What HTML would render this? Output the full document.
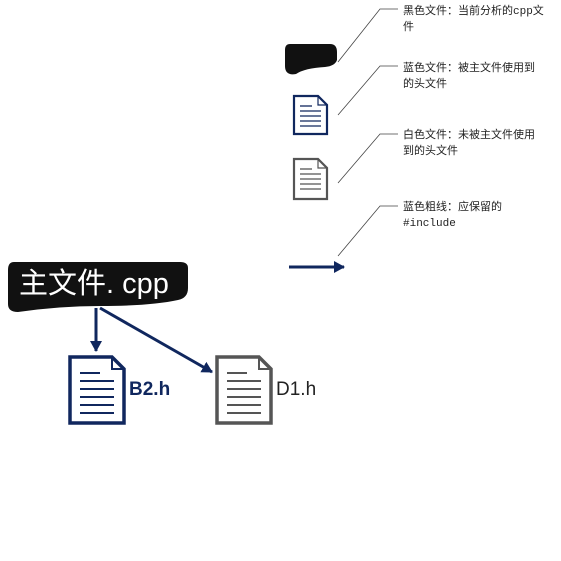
<!DOCTYPE html>
<html><head><meta charset="utf-8"><style>
body{margin:0;background:#fff;width:561px;height:561px;overflow:hidden;font-family:"Liberation Sans","Noto Sans CJK SC",sans-serif}
.t{position:absolute;font-size:11px;line-height:16px;color:#222;font-family:"Liberation Mono","Noto Sans CJK SC",monospace;width:147px;word-break:break-all}
</style></head><body>
<svg width="561" height="561" style="position:absolute;left:0;top:0">
<defs>
<marker id="a" markerWidth="12" markerHeight="12" refX="10" refY="6" orient="auto" markerUnits="userSpaceOnUse"><path d="M0,0 L11,6 L0,12 Z" fill="#10275e"/></marker>
</defs>
<path d="M14,262 Q8,262 8,270 L8,304 Q8,312 18,312 Q60,306 100,306 Q150,306 178,300 Q188,298 188,288 L188,268 Q188,262 180,262 Z" fill="#111"/>
<text x="19" y="293" fill="#fff" font-size="29" font-family="Liberation Sans,Noto Sans CJK SC,sans-serif">主文件. cpp</text>
<line x1="96" y1="308" x2="96" y2="351" stroke="#10275e" stroke-width="3" marker-end="url(#a)"/>
<line x1="100" y1="308" x2="212" y2="372" stroke="#10275e" stroke-width="3" marker-end="url(#a)"/>
<path d="M70,357 L112,357 L124,369 L124,423 L70,423 Z" fill="#fff" stroke="#10275e" stroke-width="3.5"/>
<path d="M112,357 L112,369 L124,369" fill="none" stroke="#10275e" stroke-width="2"/>
<g stroke="#10275e" stroke-width="2"><line x1="80" y1="373" x2="100" y2="373"/><line x1="80" y1="381" x2="114" y2="381"/><line x1="80" y1="389" x2="114" y2="389"/><line x1="80" y1="397" x2="114" y2="397"/><line x1="80" y1="405" x2="114" y2="405"/><line x1="80" y1="413" x2="114" y2="413"/></g>
<text x="129" y="395" fill="#10275e" font-size="19" font-weight="bold">B2.h</text>
<path d="M217,357 L259,357 L271,369 L271,423 L217,423 Z" fill="#fff" stroke="#555" stroke-width="3.5"/>
<path d="M259,357 L259,369 L271,369" fill="none" stroke="#555" stroke-width="2"/>
<g stroke="#555" stroke-width="2"><line x1="227" y1="373" x2="247" y2="373"/><line x1="227" y1="381" x2="261" y2="381"/><line x1="227" y1="389" x2="261" y2="389"/><line x1="227" y1="397" x2="261" y2="397"/><line x1="227" y1="405" x2="261" y2="405"/><line x1="227" y1="413" x2="261" y2="413"/></g>
<text x="276" y="395" fill="#222" font-size="19">D1.h</text>
<path d="M290,44 L330,44 Q337,44 337,52 L337,60 Q335,66 325,67 Q305,68 296,74 Q285,76 285,66 L285,50 Q285,44 290,44 Z" fill="#111"/>
<path d="M294,96 L318,96 L327,105 L327,134 L294,134 Z" fill="#fff" stroke="#10275e" stroke-width="2.2"/>
<path d="M318,96 L318,105 L327,105" fill="none" stroke="#10275e" stroke-width="1.2"/>
<g stroke="#10275e" stroke-width="1.3"><line x1="300" y1="106" x2="312" y2="106"/><line x1="300" y1="111" x2="321" y2="111"/><line x1="300" y1="116" x2="321" y2="116"/><line x1="300" y1="121" x2="321" y2="121"/><line x1="300" y1="126" x2="321" y2="126"/></g>
<path d="M294,159 L318,159 L327,168 L327,199 L294,199 Z" fill="#fff" stroke="#555" stroke-width="2.2"/>
<path d="M318,159 L318,168 L327,168" fill="none" stroke="#555" stroke-width="1.2"/>
<g stroke="#555" stroke-width="1.3"><line x1="300" y1="169" x2="312" y2="169"/><line x1="300" y1="174" x2="321" y2="174"/><line x1="300" y1="179" x2="321" y2="179"/><line x1="300" y1="184" x2="321" y2="184"/><line x1="300" y1="189" x2="321" y2="189"/></g>
<line x1="289" y1="267" x2="344" y2="267" stroke="#10275e" stroke-width="3" marker-end="url(#a)"/>
<g stroke="#444" stroke-width="0.8" fill="none">
<polyline points="338,62 380,9 398,9"/>
<polyline points="338,115 380,66 398,66"/>
<polyline points="338,183 380,134 398,134"/>
<polyline points="338,256 380,206 398,206"/>
</g>
</svg>
<div class="t" style="left:403px;top:4px">黑色文件：当前分析的cpp文件</div>
<div class="t" style="left:403px;top:61px;width:135px">蓝色文件：被主文件使用到的头文件</div>
<div class="t" style="left:403px;top:128px;width:135px">白色文件：未被主文件使用到的头文件</div>
<div class="t" style="left:403px;top:200px">蓝色粗线：应保留的<br>#include</div>
</body></html>
